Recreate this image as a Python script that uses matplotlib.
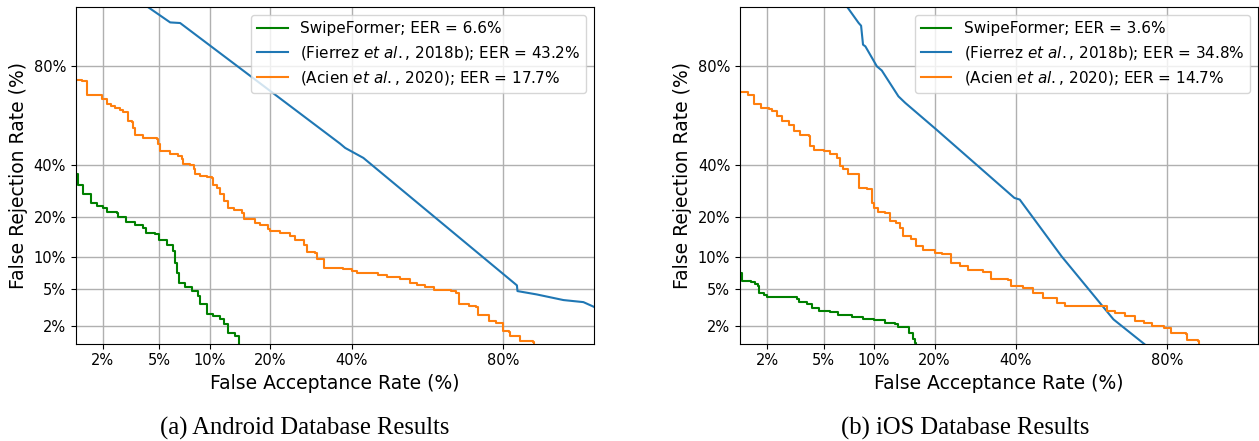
import numpy as np
import matplotlib
matplotlib.use('Agg')
import matplotlib.pyplot as plt
from statistics import NormalDist

# DET curves, values in percent (FAR, FRR)
android_swipe_far = [1.2, 1.28, 1.41, 1.61, 1.80, 2.0, 2.14, 2.57, 2.61, 2.97, 3.44, 3.92, 4.08, 4.69,
                     5.0, 5.58, 6.08, 6.28, 6.44, 6.68, 7.23, 7.91, 8.65, 8.84, 9.56, 9.65, 10.5,
                     11.4, 11.9, 12.6, 13.7, 14.2, 14.3]
android_swipe_frr = [36.0, 31.7, 27.9, 24.8, 23.9, 23.1, 21.6, 21.5, 20.0, 18.6, 17.8, 16.9, 15.4, 15.1,
                     13.8, 12.4, 11.2, 8.89, 7.23, 5.82, 5.32, 4.81, 4.27, 3.56, 3.50, 2.77, 2.61,
                     2.44, 2.09, 1.67, 1.52, 1.25, 1.1]

android_fierrez_far = [3.17, 5.86, 6.75, 36.8, 38.2, 43.3, 82.7, 82.8, 86.1, 89.95, 92.27, 93.3, 93.9]
android_fierrez_frr = [94.95, 90.85, 90.74, 49.2, 47.3, 42.9, 5.48, 4.81, 4.45, 3.89, 3.70, 3.30, 2.94]

android_acien_far = [1.2, 1.35, 1.37, 1.50, 1.52, 1.90, 1.97, 2.11, 2.14, 2.31, 2.47, 2.69, 2.84, 3.05,
                     3.08, 3.26, 3.31, 3.44, 3.82, 3.92, 4.81, 4.93, 5.05, 5.86, 6.59, 6.92, 7.07,
                     7.75, 8.11, 8.29, 8.87, 9.68, 10.3, 10.5, 11.0, 11.4, 11.9, 12.6, 13.4, 14.8,
                     15.1, 16.5, 17.1, 18.0, 19.6, 20.0, 22.1, 24.3, 25.4, 27.4, 28.2, 30.2, 30.8,
                     32.4, 32.6, 35.9, 37.7, 40.0, 41.4, 45.7, 47.6, 50.0, 53.9, 56.7, 58.6, 61.0,
                     63.3, 67.8, 69.1, 69.9, 72.4, 74.2, 74.5, 76.7, 77.0, 78.5, 80.0, 80.1, 81.1,
                     81.3, 83.2, 83.3, 85.5, 85.6]
android_acien_frr = [75.6, 75.6, 75.0, 75.0, 69.8, 69.8, 68.4, 68.4, 66.5, 65.7, 64.7, 64.0, 62.9, 61.5,
                     59.1, 58.6, 56.2, 53.2, 52.9, 51.8, 51.4, 49.2, 45.8, 44.4, 43.6, 42.6, 40.4,
                     40.0, 37.9, 36.2, 35.1, 34.8, 34.4, 31.7, 30.4, 27.9, 25.4, 23.1, 22.3, 21.5,
                     19.6, 19.6, 18.4, 17.8, 16.6, 16.0, 15.5, 14.7, 13.8, 12.6, 10.9, 10.8, 9.5,
                     9.0, 8.03, 8.0, 7.75, 7.48, 7.12, 7.12, 6.83, 6.63, 6.35, 5.82, 5.48, 5.32,
                     4.89, 4.81, 4.63, 3.50, 3.36, 3.27, 2.67, 2.65, 2.29, 2.19, 2.0, 1.75, 1.72,
                     1.52, 1.52, 1.32, 1.29, 1.1]

ios_swipe_far = [1.2, 1.27, 1.50, 1.62, 1.69, 1.74, 1.88, 2.0, 2.97, 3.31, 3.40, 3.88, 4.20, 4.64,
                 5.49, 6.21, 7.14, 7.48, 8.73, 10.0, 11.5, 12.98, 13.5, 14.8, 15.3, 15.9, 16.3, 16.5]
ios_swipe_frr = [7.2, 6.02, 5.94, 5.6, 5.39, 4.55, 4.34, 4.17, 4.17, 3.95, 3.70, 3.50, 3.22, 2.96,
                 2.89, 2.65, 2.65, 2.56, 2.44, 2.35, 2.15, 2.13, 1.97, 1.97, 1.67, 1.38, 1.245, 1.1]

ios_fierrez_far = [6.21, 8.21, 8.48, 8.70, 8.97, 10.4, 11.05, 13.5, 14.6, 20.4, 39.6, 41.1,
                   53.1, 67.5, 74.8, 76.5]
ios_fierrez_frr = [94.95, 90.74, 90.23, 86.06, 85.65, 80.0, 78.7, 69.4, 66.8, 55.4, 26.6, 26.0,
                   10.1, 2.39, 1.245, 1.04]

ios_acien_far = [1.2, 1.39, 1.41, 1.56, 1.57, 1.78, 2.06, 2.18, 2.37, 2.59, 2.89, 3.14, 3.49, 3.98,
                 4.08, 4.30, 5.0, 5.49, 6.06, 6.34, 6.66, 7.14, 8.16, 8.29, 9.13, 9.75, 10.0, 10.6,
                 11.5, 12.2, 13.1, 13.7, 14.2, 15.65, 16.5, 17.7, 20.0, 21.45, 23.4, 25.5, 27.4,
                 31.1, 33.3, 37.7, 38.6, 42.1, 44.9, 47.8, 51.7, 54.1, 63.5, 65.8, 67.9, 70.5,
                 72.96, 74.9, 76.8, 79.3, 80.7, 83.7, 83.85, 85.7, 85.8]
ios_acien_frr = [70.95, 70.95, 69.8, 69.8, 66.5, 64.7, 64.3, 63.3, 61.5, 59.1, 57.6, 54.7, 53.2, 52.5,
                 48.0, 46.6, 45.8, 44.4, 42.9, 39.3, 37.9, 36.2, 35.8, 30.4, 29.8, 24.8, 23.1, 21.6,
                 21.5, 18.8, 18.4, 16.9, 14.8, 14.0, 12.2, 11.5, 10.8, 10.5, 8.9, 8.4, 7.64,
                 7.32, 6.25, 6.17, 5.39, 5.2, 4.55, 4.11, 3.65, 3.36, 3.36, 2.96, 2.84, 2.61,
                 2.29, 2.15, 2.0, 1.91, 1.64, 1.59, 1.36, 1.32, 1.1]

tick_values = [2, 5, 10, 20, 40, 80]
tick_labels = ['2%', '5%', '10%', '20%', '40%', '80%']
axis_lim = (1.222, 93.32)

_nd = NormalDist()


def probit(v):
    v = np.clip(np.asarray(v, dtype=float) / 100.0, 1e-9, 1 - 1e-9)
    return np.vectorize(_nd.inv_cdf, otypes=[float])(v)


def inv_probit(z):
    z = np.asarray(z, dtype=float)
    return np.vectorize(_nd.cdf, otypes=[float])(z) * 100.0


def det_panel(ax, swipe, fierrez, acien, eers):
    ax.plot(*swipe, color='green', lw=1.5, drawstyle='steps-post',
            label=f'SwipeFormer; EER = {eers[0]}%')
    ax.plot(*fierrez, color='tab:blue', lw=1.5,
            label=r'(Fierrez $\it{et\ al.}$, 2018b); EER = ' + f'{eers[1]}%')
    ax.plot(*acien, color='tab:orange', lw=1.5, drawstyle='steps-post',
            label=r'(Acien $\it{et\ al.}$, 2020); EER = ' + f'{eers[2]}%')
    ax.set_xscale('function', functions=(probit, inv_probit))
    ax.set_yscale('function', functions=(probit, inv_probit))
    ax.set_xlim(*axis_lim)
    ax.set_ylim(*axis_lim)
    ax.set_xticks(tick_values)
    ax.set_xticklabels(tick_labels)
    ax.set_yticks(tick_values)
    ax.set_yticklabels(tick_labels)
    ax.minorticks_off()
    ax.tick_params(labelsize=10.5)
    ax.grid(True, color='#b0b0b0', lw=1.0)
    ax.set_xlabel('False Acceptance Rate (%)', fontsize=13.5)
    ax.set_ylabel('False Rejection Rate (%)', fontsize=13.5)
    ax.legend(loc='upper right', fontsize=11)


W, H = 1259, 441
fig = plt.figure(figsize=(W / 100, H / 100), dpi=100)
ax_a = fig.add_axes([75.7 / W, 1 - 343.7 / H, 518.3 / W, 336.4 / H])
ax_b = fig.add_axes([740 / W, 1 - 343.7 / H, 518 / W, 336.4 / H])

det_panel(ax_a, (android_swipe_far, android_swipe_frr),
          (android_fierrez_far, android_fierrez_frr),
          (android_acien_far, android_acien_frr), ['6.6', '43.2', '17.7'])
det_panel(ax_b, (ios_swipe_far, ios_swipe_frr),
          (ios_fierrez_far, ios_fierrez_frr),
          (ios_acien_far, ios_acien_frr), ['3.6', '34.8', '14.7'])

fig.text(305 / W, 1 - 428 / H, '(a) Android Database Results', ha='center', va='center',
         family='Liberation Serif', fontsize=17.7)
fig.text(965 / W, 1 - 428 / H, '(b) iOS Database Results', ha='center', va='center',
         family='Liberation Serif', fontsize=17.7)

fig.savefig('out.png', dpi=100)
